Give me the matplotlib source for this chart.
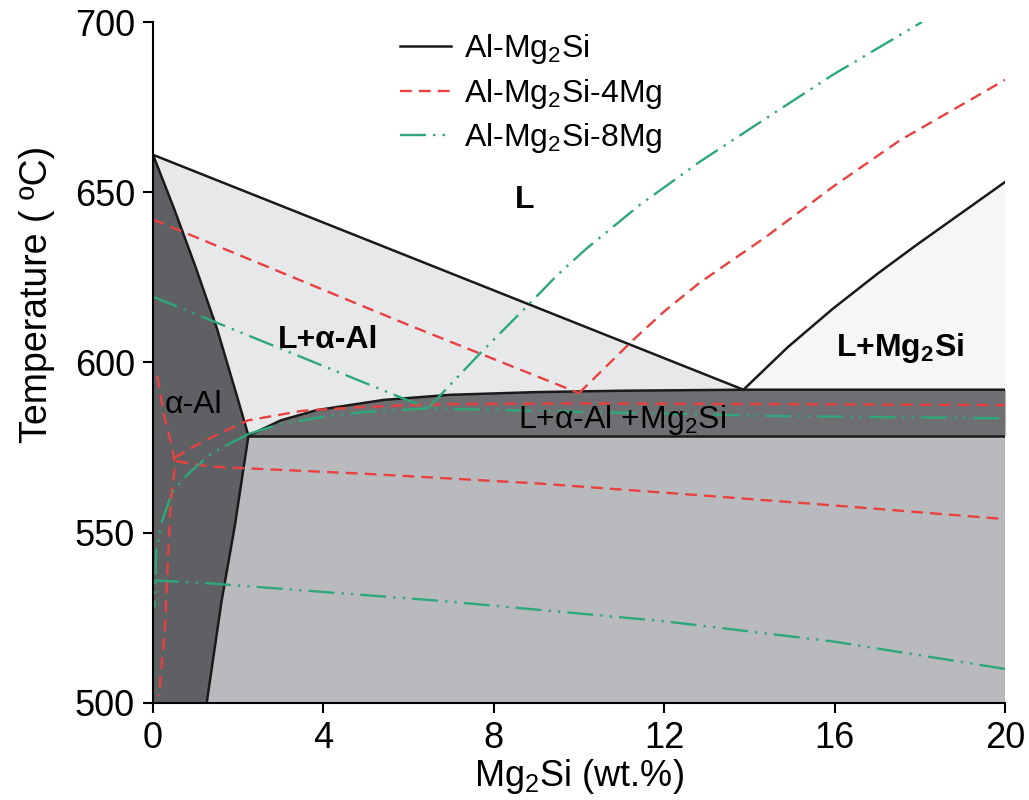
import matplotlib
matplotlib.use('Agg')
import matplotlib.pyplot as plt
import numpy as np

plt.rcParams['font.family'] = ['Liberation Sans', 'DejaVu Sans']
plt.rcParams['mathtext.fontset'] = 'custom'
plt.rcParams['mathtext.rm'] = 'Liberation Sans'
plt.rcParams['mathtext.bf'] = 'Liberation Sans:bold'
plt.rcParams['mathtext.default'] = 'regular'

# --- Al-Mg2Si (black, phase boundaries) ---
liq_x = [0, 13.86]
liq_y = [661, 592]
liq2_x = [13.86, 14.9, 15.96, 17.0, 17.92, 20]
liq2_y = [592, 604.5, 615.8, 626, 634.5, 653]
sol_x = [0, 0.5, 1.0, 1.5, 1.95, 2.24]
sol_y = [661, 645, 628, 610, 591, 578.5]
solv_x = [2.24, 1.92, 1.61, 1.26]
solv_y = [578.5, 552, 530, 500]
band_top_x = [2.24, 3, 3.84, 5.41, 6.97, 9, 11, 13.86, 20]
band_top_y = [578.5, 583, 586, 589, 590.5, 591.3, 591.7, 592, 592]
band_low = 578.5

# --- Al-Mg2Si-4Mg (red dashed) ---
r_liq_x = [0, 3, 6, 8, 10]
r_liq_y = [642, 626.5, 611, 601, 591]
r_liq2_x = [10, 11.27, 12.0, 12.84, 14.4, 15.96, 17.54, 20]
r_liq2_y = [591, 606.6, 615, 623.5, 637, 651.6, 665.3, 683]
r_band_x = [0.5, 1.2, 2.23, 3.5, 5, 7, 10, 20]
r_band_y = [572, 577, 583, 585.8, 587, 587.8, 588, 587.5]
r_sol_x = [0.1, 0.25, 0.45, 0.52, 0.42, 0.35, 0.28, 0.14]
r_sol_y = [596, 585, 575, 570, 560, 542, 522, 502]
r_solv_x = [0.55, 1.37, 5, 9, 12.84, 16, 20]
r_solv_y = [571, 569.4, 567.3, 564.5, 561, 558, 554]

# --- Al-Mg2Si-8Mg (green dash-dot-dot) ---
g_liq_x = [0, 6.45]
g_liq_y = [619.3, 586.5]
g_liq2_x = [6.45, 7.68, 8.77, 9.5, 10.18, 11.43, 12.84, 14.4, 15.96, 17.93, 18.05]
g_liq2_y = [586.5, 602.7, 616.4, 625.8, 633.5, 646.3, 659, 671.8, 684.5, 699.1, 700]
g_band_x = [2.24, 3, 4, 5, 6.45, 10, 14.5, 20]
g_band_y = [579, 582, 584, 585.5, 586.5, 585.5, 584.3, 583.6]
g_sol_x = [2.24, 1.38, 0.8, 0.44, 0.2, 0.08, 0.03]
g_sol_y = [579, 573.4, 567, 561.7, 553, 545, 528]
g_solv_x = [0, 1.26, 6.74, 12, 16, 20]
g_solv_y = [536, 535.2, 530, 524, 518, 510]

RED = '#e8413f'
GREEN = '#2ea87a'
red_ls = (0, (5, 3))
green_ls = (0, (11, 3, 1, 3, 1, 3))

fig, ax = plt.subplots(figsize=(10.29, 8), dpi=100)
fig.subplots_adjust(left=0.1487, right=0.9767, bottom=0.1213, top=0.9725)

# region fills
bt_x = np.array(band_top_x)
bt_y = np.array(band_top_y)
ax.fill_between([0, 20], 500, band_low, color='#b9babd', lw=0, zorder=0)
ax.fill_between(bt_x, band_low, bt_y, color='#6e6f72', lw=0, zorder=0)
m = bt_x <= liq_x[-1]
ax.fill(np.concatenate([liq_x, bt_x[m][::-1], sol_x[::-1]]),
        np.concatenate([liq_y, bt_y[m][::-1], sol_y[::-1]]),
        color='#e7e8e9', lw=0, zorder=0)
ax.fill(np.r_[liq2_x, 20], np.r_[liq2_y, 592], color='#f6f6f6', lw=0, zorder=0)
ax.fill(np.r_[sol_x, solv_x, 0], np.r_[sol_y, solv_y, 500],
        color='#5f6064', lw=0, zorder=0)

# black boundaries
kw = dict(color='#1a1a1a', lw=1.8, zorder=2)
ax.plot(liq_x, liq_y, label='Al-Mg$_2$Si', **kw)
ax.plot(liq2_x, liq2_y, **kw)
ax.plot(sol_x, sol_y, **kw)
ax.plot(solv_x, solv_y, **kw)
ax.plot(band_top_x, band_top_y, **kw)
ax.plot([2.24, 20], [band_low, band_low], **kw)

# red dashed
kw = dict(color=RED, lw=1.7, ls=red_ls, zorder=3)
ax.plot(r_liq_x, r_liq_y, label='Al-Mg$_2$Si-4Mg', **kw)
ax.plot(r_liq2_x, r_liq2_y, **kw)
ax.plot(r_band_x, r_band_y, **kw)
ax.plot(r_sol_x, r_sol_y, **kw)
ax.plot(r_solv_x, r_solv_y, **kw)

# green dash-dot-dot
kw = dict(color=GREEN, lw=1.7, ls=green_ls, zorder=3)
ax.plot(g_liq_x, g_liq_y, label='Al-Mg$_2$Si-8Mg', **kw)
ax.plot(g_liq2_x, g_liq2_y, **kw)
ax.plot(g_band_x, g_band_y, **kw)
ax.plot(g_sol_x, g_sol_y, **kw)
ax.plot(g_solv_x, g_solv_y, **kw)

# region labels
ax.text(8.73, 647.7, 'L', fontsize=23, fontweight='bold', ha='center', va='center', zorder=4)
ax.text(4.11, 606.5, 'L+α-Al', fontsize=23, fontweight='bold', ha='center', va='center', zorder=4)
ax.text(0.95, 587.5, 'α-Al', fontsize=23, ha='center', va='center', zorder=4)
ax.text(11.0, 583, 'L+α-Al +Mg$_2$Si', fontsize=23, ha='center', va='center', zorder=4)
ax.text(17.54, 604.3, r'L+Mg$_\mathbf{2}$Si', fontsize=23, fontweight='bold',
        ha='center', va='center', zorder=4)

ax.set_xlim(0, 20)
ax.set_ylim(500, 700)
ax.set_xticks([0, 4, 8, 12, 16, 20])
ax.set_yticks([500, 550, 600, 650, 700])
ax.tick_params(direction='out', length=7, width=1.5, labelsize=26, pad=6)
for s in ['top', 'right']:
    ax.spines[s].set_visible(False)
for s in ['left', 'bottom']:
    ax.spines[s].set_linewidth(1.5)
    ax.spines[s].set_zorder(5)

ax.set_xlabel('Mg$_2$Si (wt.%)', fontsize=26, labelpad=1)
ax.set_ylabel('Temperature ( ºC)', fontsize=27)
ax.yaxis.set_label_coords(-0.115, 0.6)

ax.legend(loc='upper left', bbox_to_anchor=(0.29, 0.985), frameon=False, fontsize=23,
          handlelength=1.6, handletextpad=0.4, labelspacing=0.33, borderpad=0,
          borderaxespad=0)

fig.savefig('out.png', dpi=100)
